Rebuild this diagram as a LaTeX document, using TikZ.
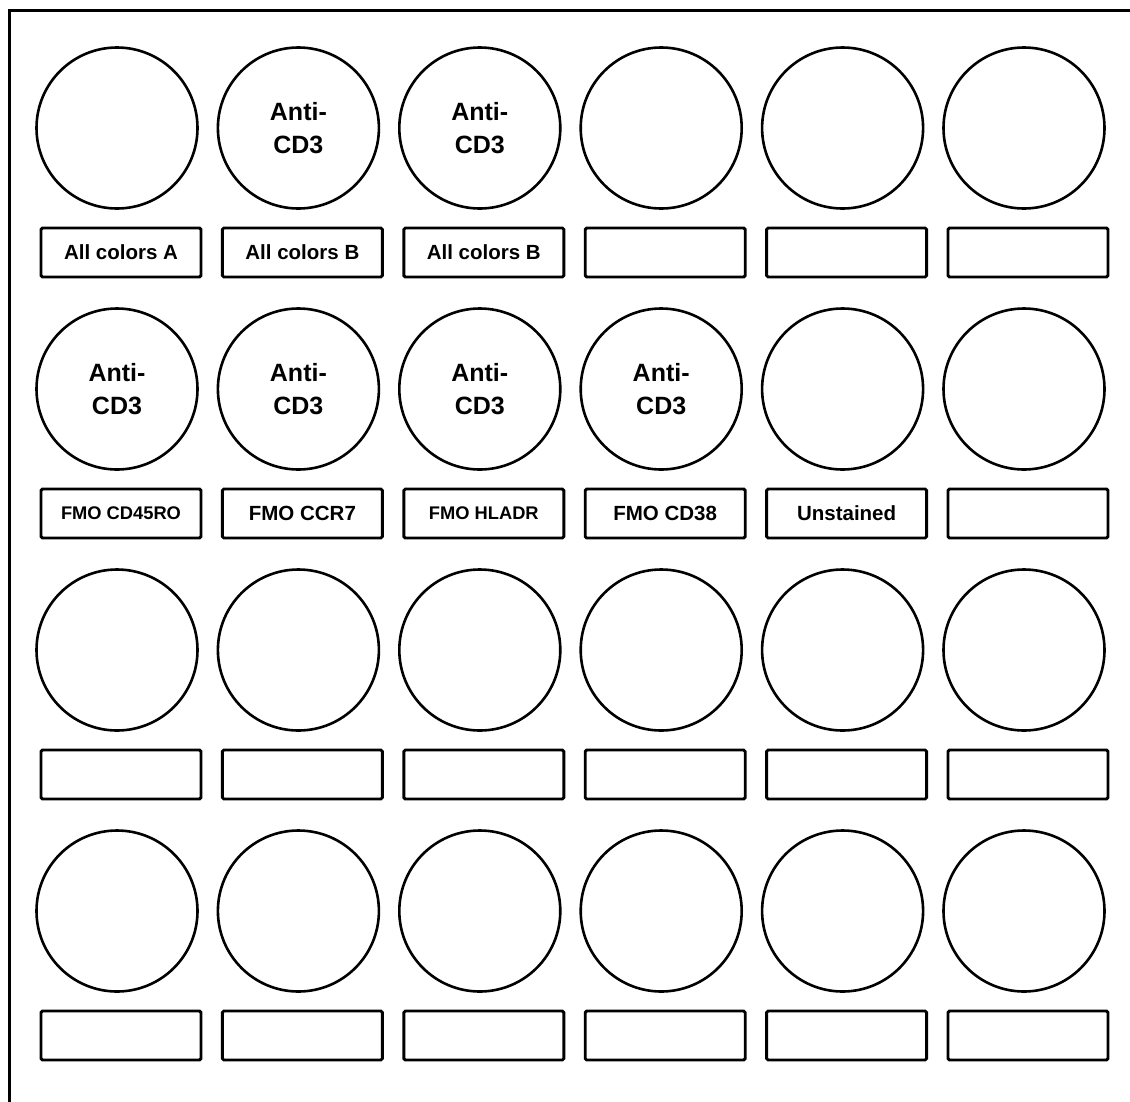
\documentclass[tikz,border=0pt]{standalone}
\usepackage{fontspec}
\setmainfont{Liberation Sans}
\begin{document}
\begin{tikzpicture}[x=1pt,y=-1pt,
  well/.style={draw,circle,line width=2.6pt,minimum size=161pt,inner sep=0pt,align=center,font=\fontsize{25}{33}\selectfont\bfseries},
  tag/.style={draw,rectangle,rounded corners=1.5pt,line width=2.9pt,minimum width=160pt,minimum height=49pt,inner sep=0pt,font=\fontsize{20.5}{24}\selectfont\bfseries},
  smalltag/.style={tag,font=\fontsize{18.3}{22}\selectfont\bfseries}]
\useasboundingbox (0,0) rectangle (1130,1101);
\coordinate (framebl) at (9,1105);
\coordinate (frametl) at (9,10);
\coordinate (frametr) at (1135,10);
\draw[line width=3pt] (framebl) -- (frametl) -- (frametr);
% row 1
\node[well] (well11) at (117,128) {};
\node[well] (well12) at (298.4,128) {Anti-\\CD3};
\node[well] (well13) at (479.8,128) {Anti-\\CD3};
\node[well] (well14) at (661.2,128) {};
\node[well] (well15) at (842.6,128) {};
\node[well] (well16) at (1024,128) {};
\node[tag] (tag11) at (121,252.5) {All colors A};
\node[tag] (tag12) at (302.4,252.5) {All colors B};
\node[tag] (tag13) at (483.8,252.5) {All colors B};
\node[tag] (tag14) at (665.2,252.5) {};
\node[tag] (tag15) at (846.6,252.5) {};
\node[tag] (tag16) at (1028,252.5) {};
% row 2
\node[well] (well21) at (117,389) {Anti-\\CD3};
\node[well] (well22) at (298.4,389) {Anti-\\CD3};
\node[well] (well23) at (479.8,389) {Anti-\\CD3};
\node[well] (well24) at (661.2,389) {Anti-\\CD3};
\node[well] (well25) at (842.6,389) {};
\node[well] (well26) at (1024,389) {};
\node[smalltag] (tag21) at (121,513.5) {FMO CD45RO};
\node[tag] (tag22) at (302.4,513.5) {FMO CCR7};
\node[smalltag] (tag23) at (483.8,513.5) {FMO HLADR};
\node[tag] (tag24) at (665.2,513.5) {FMO CD38};
\node[tag] (tag25) at (846.6,513.5) {Unstained};
\node[tag] (tag26) at (1028,513.5) {};
% row 3
\node[well] (well31) at (117,650) {};
\node[well] (well32) at (298.4,650) {};
\node[well] (well33) at (479.8,650) {};
\node[well] (well34) at (661.2,650) {};
\node[well] (well35) at (842.6,650) {};
\node[well] (well36) at (1024,650) {};
\node[tag] (tag31) at (121,774.5) {};
\node[tag] (tag32) at (302.4,774.5) {};
\node[tag] (tag33) at (483.8,774.5) {};
\node[tag] (tag34) at (665.2,774.5) {};
\node[tag] (tag35) at (846.6,774.5) {};
\node[tag] (tag36) at (1028,774.5) {};
% row 4
\node[well] (well41) at (117,911) {};
\node[well] (well42) at (298.4,911) {};
\node[well] (well43) at (479.8,911) {};
\node[well] (well44) at (661.2,911) {};
\node[well] (well45) at (842.6,911) {};
\node[well] (well46) at (1024,911) {};
\node[tag] (tag41) at (121,1035.5) {};
\node[tag] (tag42) at (302.4,1035.5) {};
\node[tag] (tag43) at (483.8,1035.5) {};
\node[tag] (tag44) at (665.2,1035.5) {};
\node[tag] (tag45) at (846.6,1035.5) {};
\node[tag] (tag46) at (1028,1035.5) {};
\end{tikzpicture}
\end{document}
